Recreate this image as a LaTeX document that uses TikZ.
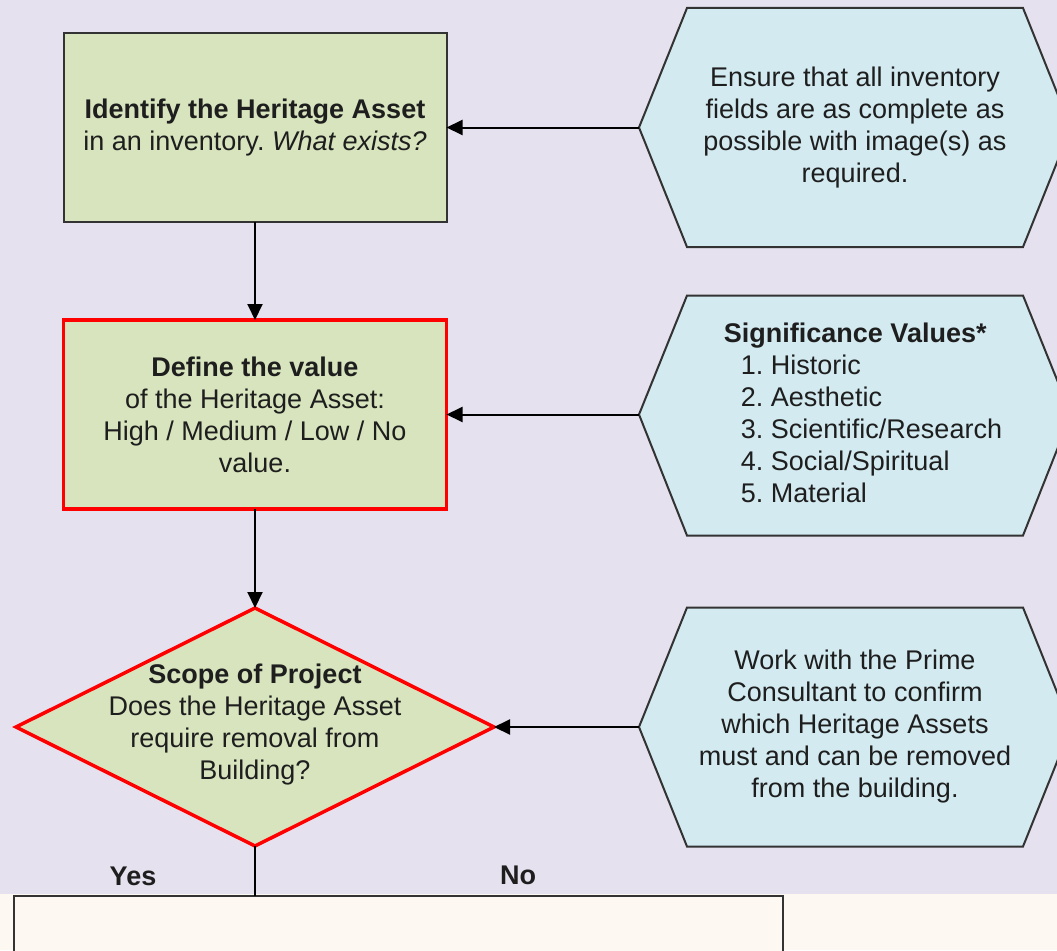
\documentclass[tikz,border=0pt]{standalone}
\usepackage{fontspec}
\setmainfont{Liberation Sans}
\usetikzlibrary{arrows.meta,shapes.geometric,backgrounds}

\definecolor{pagebg}{HTML}{E6E1EE}
\definecolor{lowerbg}{HTML}{FDF8F2}
\definecolor{stepgreen}{HTML}{D7E4BD}
\definecolor{notefill}{HTML}{D2EAF0}
\definecolor{edgegray}{HTML}{333333}
\definecolor{inkcol}{HTML}{1E1E1E}

\frenchspacing
\begin{document}
\begin{tikzpicture}[x=1pt,y=-1pt,
  every node/.style={font=\fontsize{27}{32}\selectfont, text=inkcol, outer sep=0pt},
  stepbox/.style={rectangle, draw=edgegray, line width=2pt, fill=stepgreen,
    minimum width=383pt, minimum height=189pt, align=center, inner sep=0pt},
  keybox/.style={stepbox, draw=red, line width=3.5pt},
  keydiamond/.style={diamond, draw=red, line width=3.5pt, fill=stepgreen,
    minimum width=478pt, minimum height=238pt, inner sep=0pt},
  notebox/.style={rectangle, minimum width=336pt, minimum height=239pt,
    align=center, inner sep=0pt},
  hexshape/.style={draw=edgegray, line width=2pt, fill=notefill, line join=miter},
  arrowline/.style={draw=black, line width=2pt, -{Triangle[length=16pt,width=15pt]}},
  plainline/.style={draw=black, line width=2pt},
  answer/.style={font=\fontsize{27}{32}\selectfont\bfseries},
  lowerbox/.style={rectangle, draw=edgegray, line width=2pt, fill=lowerbg,
    minimum width=769pt, minimum height=110pt, inner sep=0pt}
]
\useasboundingbox (0,0) rectangle (1057,950);

% process steps
\node[stepbox] (b1) at (255,127.5)
  {\textbf{Identify the Heritage Asset}\\in an inventory. \textit{What exists?}};
\node[keybox] (b2) at (255,414.5)
  {\textbf{Define the value}\\of the Heritage Asset:\\High / Medium / Low / No\\value.};
\node[keydiamond] (d) at (255,727) {};
\node (dtext) at (255,725)
  [align=center] {\textbf{Scope of Project}\\Does the Heritage Asset\\require removal from\\Building?};

% guidance notes
\node[notebox] (h1) at (855,127.5)
  {Ensure that all inventory\\fields are as complete as\\possible with image(s) as\\required.};
\node[notebox, align=left] (h2) at (855,412.5)
  {\hspace*{16pt}\textbf{Significance Values*}\\
   \hspace*{33pt}1. Historic\\
   \hspace*{33pt}2. Aesthetic\\
   \hspace*{33pt}3. Scientific/Research\\
   \hspace*{33pt}4. Social/Spiritual\\
   \hspace*{33pt}5. Material};
\node[notebox] (h3) at (855,727)
  {Work with the Prime\\Consultant to confirm\\which Heritage Assets\\must and can be removed\\from the building.};

\foreach \h in {h1,h2,h3}
  \coordinate (\h tip) at ([xshift=-48pt]\h.west);
% the h2 outline keeps its own vertical centre
\coordinate (h2top) at (855,295.5);
\coordinate (h2bot) at (855,535.5);

% next stage
\node[lowerbox] (bot) at (398.5,950.5) {};
\node[answer] (yes) at (133,876) {Yes};
\node[answer] (no) at (518,875) {No};

% connectors
\draw[arrowline] (b1.south) -- (b2.north);
\draw[arrowline] (b2.south) -- (d.north);
\draw[plainline] (d.south) -- (d.south |- bot.north);
\draw[arrowline] (h1tip) -- (b1.east);
\draw[arrowline] (h2tip |- b2.east) -- (b2.east);
\draw[arrowline] (h3tip) -- (d.east);

\begin{scope}[on background layer]
  \fill[pagebg] (0,0) rectangle (1057,894);
  \fill[lowerbg] (0,894) rectangle (1057,950);
  \foreach \h in {h1,h3}
    \draw[hexshape] (\h.north west) -- (\h.north east) -- ([xshift=48pt]\h.east)
      -- (\h.south east) -- (\h.south west) -- (\h tip) -- cycle;
  \draw[hexshape] (h2top -| h2.west) -- (h2top -| h2.east)
      -- ([xshift=48pt]h2.east |- b2.east) -- (h2bot -| h2.east)
      -- (h2bot -| h2.west) -- (h2tip |- b2.east) -- cycle;
\end{scope}
\end{tikzpicture}
\end{document}
